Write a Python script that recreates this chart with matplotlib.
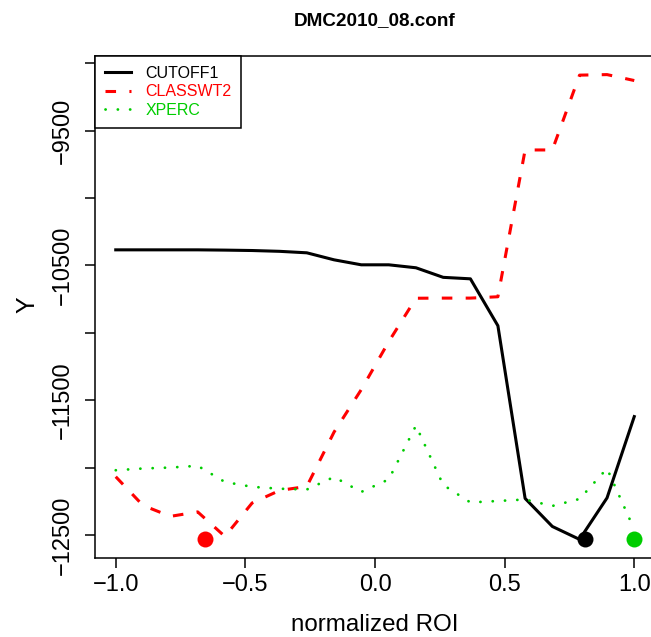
import matplotlib
matplotlib.use('Agg')
import matplotlib.pyplot as plt

# ---- data ----
roi = [-1.0, -0.895, -0.789, -0.684, -0.579, -0.474, -0.368, -0.263, -0.158, -0.053,
       0.053, 0.158, 0.263, 0.368, 0.474, 0.579, 0.684, 0.789, 0.895, 1.0]
cutoff1 = [-10384, -10384, -10384, -10384, -10386, -10389, -10395, -10406, -10458, -10495,
           -10495, -10517, -10588, -10599, -10947, -12228, -12436, -12532, -12224, -11621]
classwt2 = [-12067, -12280, -12361, -12328, -12510, -12262, -12169, -12139, -11736, -11421,
            -11065, -10743, -10742, -10742, -10732, -9643, -9643, -9088, -9084, -9128]
xperc = [-12019, -12006, -11999, -11986, -12106, -12142, -12156, -12162, -12069, -12180,
         -12087, -11688, -12128, -12258, -12247, -12236, -12284, -12232, -12006, -12458]
series_names = ["CUTOFF1", "CLASSWT2", "XPERC"]
best_x = [0.811, -0.655, 1.0]
best_y = [-12530, -12530, -12530]

x_ticks = [-1.0, -0.5, 0.0, 0.5, 1.0]
x_ticklabels = ["\u22121.0", "\u22120.5", "0.0", "0.5", "1.0"]
y_ticks = [-12500, -12000, -11500, -11000, -10500, -10000, -9500, -9000]
y_ticklabels = ["\u221212500", "", "\u221211500", "", "\u221210500", "", "\u22129500", ""]

# ---- styling ----
plt.rcParams['lines.scale_dashes'] = False
REG = ['Liberation Sans', 'DejaVu Sans']
plt.rcParams['font.family'] = REG

colors = ['black', '#FF0000', '#00CD00']

fig = plt.figure(figsize=(6.51, 6.37), dpi=100)
ax = fig.add_axes([95/651, (637-558)/637, 560/651, 502/637])

lw = 2.2
ax.plot(roi, cutoff1, color=colors[0], lw=lw, solid_joinstyle='round', label=series_names[0])
ax.plot(roi, classwt2, color=colors[1], lw=lw, linestyle=(0, (7.6, 9.6)),
        dash_capstyle='butt', label=series_names[1])
ax.plot(roi, xperc, color=colors[2], lw=2.0, linestyle=(0, (0.1, 8.76)),
        dash_capstyle='round', label=series_names[2])

for bx, by, c in zip(best_x, best_y, colors):
    ax.plot([bx], [by], 'o', color=c, markersize=11.5, markeredgewidth=0, zorder=5)

ax.set_xlim(-1.08, 1.08)
ax.set_ylim(-12670, -8946)

ax.set_xticks(x_ticks)
ax.set_xticklabels(x_ticklabels, fontsize=17)
ax.set_yticks(y_ticks)
ax.set_yticklabels(y_ticklabels, fontsize=17, rotation=90, va='center')
ax.tick_params(axis='both', direction='out', length=7.2, width=1.1, color='black')
ax.tick_params(axis='x', pad=4)
ax.tick_params(axis='y', pad=8)
for s in ax.spines.values():
    s.set_linewidth(1.1)
    s.set_color('black')

ax.set_xlabel("normalized ROI", fontsize=17.4, va='center')
ax.xaxis.set_label_coords(0.5, -0.1335)
ax.set_ylabel("Y", fontsize=18, va='center')
ax.yaxis.set_label_coords(-0.121, 0.504)
ax.set_title("DMC2010_08.conf", fontsize=13.6, fontweight='bold',
             x=0.5, y=1.070, va='center', pad=0)

leg = ax.legend(loc='upper left', bbox_to_anchor=(0, 1), borderaxespad=0,
                fancybox=False, edgecolor='black', framealpha=1, fontsize=11.5,
                borderpad=0.6, handlelength=1.67, handletextpad=0.9,
                labelspacing=0.23, labelcolor='linecolor')
leg.get_frame().set_linewidth(1.1)

fig.savefig('out.png', dpi=100)
